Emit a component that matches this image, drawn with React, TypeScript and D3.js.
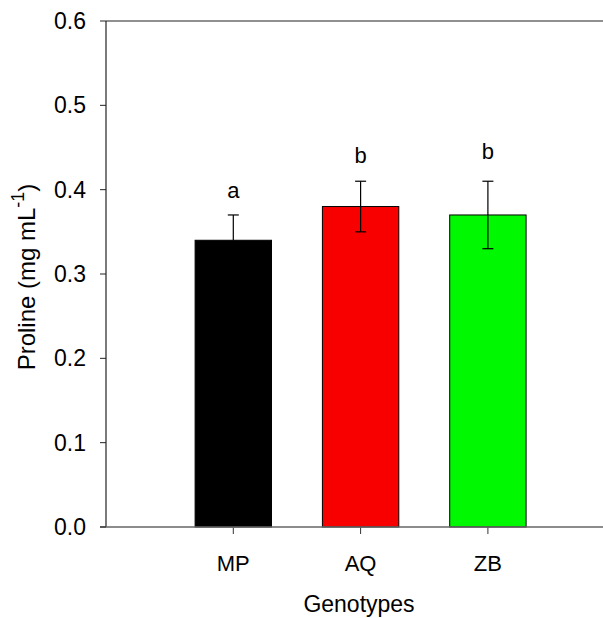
import React from "react";
import * as d3 from "d3";

const categories = ["MP", "AQ", "ZB"];
const values = [0.34, 0.38, 0.37];
const errUp = [0.03, 0.03, 0.04];
const errDown = [0, 0.03, 0.04];
const letters = ["a", "b", "b"];
const letterValues = [0.399, 0.441, 0.445];
const colors = ["#000000", "#f80000", "#00f800"];
const yTicks = [0, 0.1, 0.2, 0.3, 0.4, 0.5, 0.6];

export default function App() {
  const W = 603, H = 618;
  const x0 = 106, yTop = 21, yBot = 527;
  const step = 127.3;
  const x = d3.scaleLinear().domain([0, 4]).range([x0, x0 + 4 * step]);
  const y = d3.scaleLinear().domain([0, 0.6]).range([yBot, yTop]);
  const bw = 0.6 * step;
  const font = "'Liberation Sans', Arial, sans-serif";
  return (
    <svg width={W} height={H} style={{ position: "absolute", left: 0, top: 0, fontFamily: font }}>
      <rect width={W} height={H} fill="#fff" />
      {categories.map((c, i) => {
        const cx = x(i + 1);
        return (
          <g key={c}>
            <rect x={cx - bw / 2} y={y(values[i])} width={bw} height={y(0) - y(values[i])} fill={colors[i]} stroke="#000" strokeWidth={1} />
            <line x1={cx} x2={cx} y1={y(values[i] - errDown[i])} y2={y(values[i] + errUp[i])} stroke="#000" strokeWidth={1.2} />
            <line x1={cx - 5.5} x2={cx + 5.5} y1={y(values[i] + errUp[i])} y2={y(values[i] + errUp[i])} stroke="#000" strokeWidth={1.2} />
            {errDown[i] > 0 && (
              <line x1={cx - 5.5} x2={cx + 5.5} y1={y(values[i] - errDown[i])} y2={y(values[i] - errDown[i])} stroke="#000" strokeWidth={1.2} />
            )}
            <text x={cx} y={y(letterValues[i])} textAnchor="middle" dominantBaseline="central" fontSize={22}>{letters[i]}</text>
            <line x1={cx} x2={cx} y1={yBot} y2={yBot + 7} stroke="#333" strokeWidth={1} />
            <text x={cx} y={563} textAnchor="middle" dominantBaseline="central" fontSize={22}>{c}</text>
          </g>
        );
      })}
      {/* axes */}
      <line x1={x0} x2={W} y1={yTop} y2={yTop} stroke="#222" strokeWidth={1.2} />
      <line x1={x0} x2={x0} y1={yTop} y2={yBot} stroke="#222" strokeWidth={1.2} />
      <line x1={x0 - 6} x2={W} y1={yBot} y2={yBot} stroke="#666" strokeWidth={1.6} />
      {yTicks.map((t) => (
        <g key={t}>
          <line x1={x0 - 6} x2={x0} y1={y(t)} y2={y(t)} stroke="#222" strokeWidth={1} />
          <text x={86} y={y(t)} textAnchor="end" dominantBaseline="central" fontSize={23}>{t.toFixed(1)}</text>
        </g>
      ))}
      <text x={359} y={604} textAnchor="middle" dominantBaseline="central" fontSize={23}>Genotypes</text>
      <text transform={`translate(26,277) rotate(-90)`} textAnchor="middle" dominantBaseline="central" fontSize={24}>
        Proline (mg mL<tspan dy={-8} fontSize={18}>-1</tspan><tspan dy={8}>)</tspan>
      </text>
    </svg>
  );
}
